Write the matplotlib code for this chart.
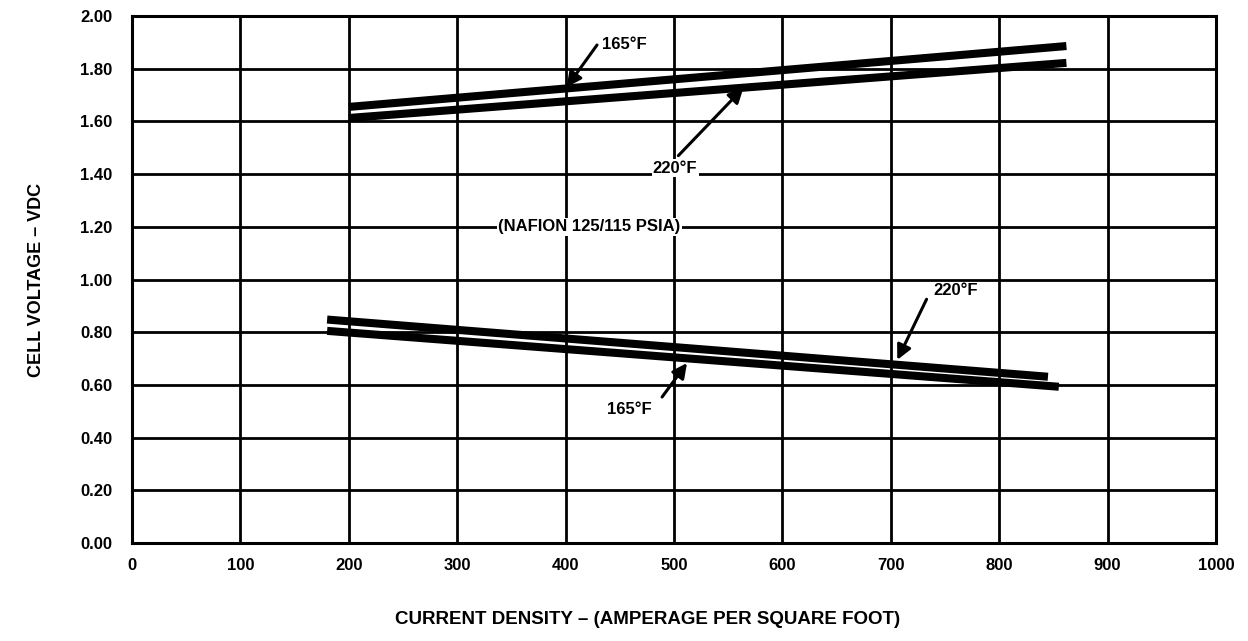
import matplotlib
matplotlib.use("Agg")
import matplotlib.pyplot as plt

plt.rcParams["font.family"] = ["Liberation Sans", "DejaVu Sans"]
plt.rcParams["font.weight"] = "bold"

# -*- Daten
x_top = [200, 862]
v_top_165 = [1.655, 1.886]
v_top_220 = [1.613, 1.822]

x_bot_220 = [180, 845]
v_bot_220 = [0.848, 0.631]
x_bot_165 = [180, 855]
v_bot_165 = [0.805, 0.593]

xticks = list(range(0, 1001, 100))
yticks = [0.0, 0.2, 0.4, 0.6, 0.8, 1.0, 1.2, 1.4, 1.6, 1.8, 2.0]

fig = plt.figure(figsize=(12.48, 6.41), dpi=100)
ax = fig.add_axes([132 / 1248, 1 - 543 / 641, (1216 - 132) / 1248, (543 - 16) / 641])

ax.set_xlim(0, 1000)
ax.set_ylim(0, 2.0)
ax.set_xticks(xticks)
ax.set_yticks(yticks)
ax.set_xticklabels([str(t) for t in xticks], fontsize=12, fontweight="bold")
ax.set_yticklabels(["%.2f" % t for t in yticks], fontsize=12, fontweight="bold")
ax.tick_params(axis="x", length=0, pad=11)
ax.tick_params(axis="y", length=0, pad=14)
ax.grid(True, color="black", lw=2.0)
ax.set_axisbelow(True)
for s in ax.spines.values():
    s.set_linewidth(2.2)

# Kennlinien
lw = 5.8
ax.plot(x_top, v_top_165, color="black", lw=lw, solid_capstyle="butt")
ax.plot(x_top, v_top_220, color="black", lw=lw, solid_capstyle="butt")
ax.plot(x_bot_220, v_bot_220, color="black", lw=lw, solid_capstyle="butt")
ax.plot(x_bot_165, v_bot_165, color="black", lw=lw, solid_capstyle="butt")

arr = dict(arrowstyle="-|>", color="black", lw=2.2, mutation_scale=22, shrinkA=0, shrinkB=0)
fs = 12

ax.annotate("", xy=(401, 1.73), xytext=(429, 1.89), arrowprops=arr)
ax.text(434, 1.89, "165°F", fontsize=fs, fontweight="bold", ha="left", va="center")

ax.annotate("", xy=(564, 1.727), xytext=(504, 1.47), arrowprops=arr)
ax.text(501, 1.423, "220°F", fontsize=fs, fontweight="bold", ha="center", va="center",
        bbox=dict(facecolor="white", edgecolor="none", pad=1))

ax.text(422, 1.2, "(NAFION 125/115 PSIA)", fontsize=fs, fontweight="bold", ha="center",
        va="center", bbox=dict(facecolor="white", edgecolor="none", pad=1))

ax.annotate("", xy=(706, 0.695), xytext=(733, 0.925), arrowprops=arr)
ax.text(739, 0.96, "220°F", fontsize=fs, fontweight="bold", ha="left", va="center")

ax.annotate("", xy=(512, 0.683), xytext=(489, 0.554), arrowprops=arr)
ax.text(459, 0.505, "165°F", fontsize=fs, fontweight="bold", ha="center", va="center")

fig.text(37 / 1248, 1 - 280 / 641, "CELL VOLTAGE – VDC", rotation=90, fontsize=13,
         fontweight="bold", ha="center", va="center")
fig.text(648 / 1248, 1 - 620 / 641, "CURRENT DENSITY – (AMPERAGE PER SQUARE FOOT)",
         fontsize=13.5, fontweight="bold", ha="center", va="center")

fig.savefig("out.png", dpi=100)
